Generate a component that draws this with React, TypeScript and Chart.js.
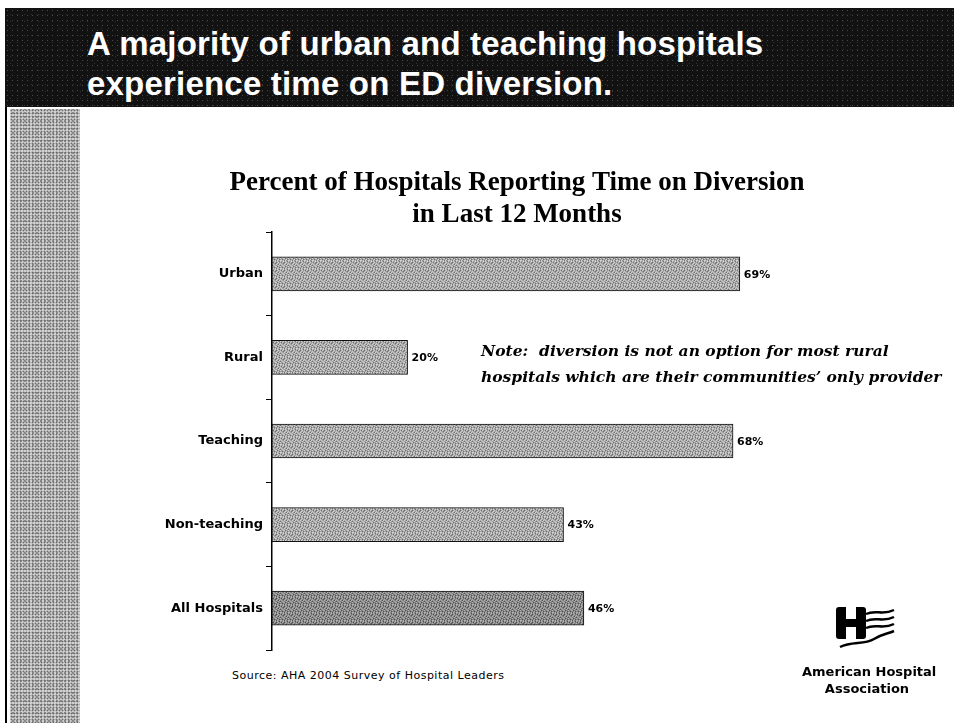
import React, { useEffect, useRef } from "react";
import { Chart, registerables } from "chart.js";

Chart.register(...registerables);

const categories = ["Urban", "Rural", "Teaching", "Non-teaching", "All Hospitals"];
const percentValues = [69, 20, 68, 43, 46];
const chartTitleLines = ["Percent of Hospitals Reporting Time on Diversion", "in Last 12 Months"];
const headlineLines = ["A majority of urban and teaching hospitals", "experience time on ED diversion."];
const noteLines = [
  "Note:  diversion is not an option for most rural",
  "hospitals which are their communities\u2019 only provider",
];
const sourceText = "Source: AHA 2004 Survey of Hospital Leaders";
const logoLines = ["American Hospital", "Association"];

// fixed dither map for a halftone look (0 = base, 1 = light, 2 = dark)
const DITHER = [
  [0, 1, 0, 2, 1, 0, 0, 1],
  [2, 0, 1, 0, 0, 2, 1, 0],
  [0, 1, 0, 0, 1, 0, 0, 2],
  [1, 0, 2, 1, 0, 1, 0, 0],
  [0, 0, 1, 0, 2, 0, 1, 0],
  [1, 2, 0, 0, 1, 0, 0, 1],
  [0, 0, 1, 2, 0, 0, 2, 0],
  [2, 1, 0, 0, 1, 1, 0, 1],
];

function makePattern(base: string, light: string, dark: string): CanvasPattern | string {
  const c = document.createElement("canvas");
  c.width = 8;
  c.height = 8;
  const g = c.getContext("2d");
  if (!g) return base;
  for (let y = 0; y < 8; y++) {
    for (let x = 0; x < 8; x++) {
      const v = DITHER[y][x];
      g.fillStyle = v === 1 ? light : v === 2 ? dark : base;
      g.fillRect(x, y, 1, 1);
    }
  }
  const p = g.createPattern(c, "repeat");
  return p || base;
}

const valueLabelPlugin = {
  id: "valueLabels",
  afterDatasetsDraw(chart: any) {
    const ctx = chart.ctx;
    const meta = chart.getDatasetMeta(0);
    const data = chart.data.datasets[0].data as number[];
    ctx.save();
    ctx.fillStyle = "#000";
    ctx.font = "bold 11px 'DejaVu Sans', Arial, sans-serif";
    ctx.textAlign = "left";
    ctx.textBaseline = "middle";
    meta.data.forEach((bar: any, i: number) => {
      ctx.fillText(data[i] + "%", bar.x + 4, bar.y + 1);
    });
    ctx.restore();
  },
};

function BarChart() {
  const ref = useRef<HTMLCanvasElement | null>(null);
  useEffect(() => {
    if (!ref.current) return;
    const normal = makePattern("#a2a2a2", "#cfcfcf", "#6e6e6e");
    const darker = makePattern("#828282", "#b0b0b0", "#4e4e4e");
    const colors = categories.map((c, i) => (i === categories.length - 1 ? darker : normal));
    const chart = new Chart(ref.current, {
      type: "bar",
      data: {
        labels: categories,
        datasets: [
          {
            data: percentValues,
            backgroundColor: colors as any,
            borderColor: "#111",
            borderWidth: 1,
            borderSkipped: false,
            barThickness: 34,
          },
        ],
      },
      options: {
        indexAxis: "y",
        animation: false,
        responsive: false,
        maintainAspectRatio: false,
        layout: { padding: { left: 0, right: 4, top: 0, bottom: 15 } },
        plugins: {
          legend: { display: false },
          tooltip: { enabled: false },
          title: {
            display: true,
            text: chartTitleLines,
            color: "#000",
            font: { family: "'Liberation Serif', 'Times New Roman', serif", size: 27, weight: "bold", lineHeight: 32 / 27 },
            padding: { top: 2, bottom: 1 },
          },
        },
        scales: {
          x: { display: false, min: 0, max: 100 },
          y: {
            type: "category",
            afterFit: (s: any) => {
              s.width = 188;
            },
            grid: { offset: true, drawOnChartArea: false, drawTicks: true, tickLength: 6, color: "#000", lineWidth: 1 },
            border: { display: true, color: "#000", width: 1.5 },
            ticks: {
              color: "#000",
              padding: 3,
              font: { family: "'DejaVu Sans', Arial, sans-serif", size: 13, weight: "bold" },
            },
          },
        },
      },
      plugins: [valueLabelPlugin],
    });
    return () => chart.destroy();
  }, []);
  return <canvas ref={ref} width={870} height={500} style={{ position: "absolute", left: 84, top: 165, width: 870, height: 500 }} />;
}

function Logo() {
  return (
    <svg width={90} height={50} style={{ position: "absolute", left: 830, top: 603 }} viewBox="0 0 90 50">
      <rect x={6} y={4} width={30} height={32} rx={3} fill="#000" />
      <rect x={16} y={4} width={10} height={12} fill="#fff" />
      <rect x={16} y={24} width={10} height={12} fill="#fff" />
      <path d="M36 11 C46 6, 52 13, 64 7" stroke="#000" strokeWidth={2.5} fill="none" />
      <path d="M36 18 C46 13, 52 20, 64 14" stroke="#000" strokeWidth={2.5} fill="none" />
      <path d="M36 25 C46 20, 52 27, 64 21" stroke="#000" strokeWidth={2.5} fill="none" />
      <path d="M10 44 C22 38, 34 42, 44 36 C52 31, 57 31, 64 28" stroke="#000" strokeWidth={2.5} fill="none" />
    </svg>
  );
}

export default function App() {
  const sans = "'Liberation Sans', Arial, Helvetica, sans-serif";
  const dsans = "'DejaVu Sans', Arial, sans-serif";
  const dserif = "'DejaVu Serif', 'Liberation Serif', serif";
  return (
    <div style={{ position: "absolute", left: 0, top: 0, width: 954, height: 723, background: "#fff", overflow: "hidden" }}>
      <div
        style={{
          position: "absolute",
          left: 5,
          top: 8,
          width: 949,
          height: 99,
          background:
            "radial-gradient(circle, #4a4a4a 0.6px, transparent 0.9px) 0 0 / 5px 5px, radial-gradient(circle, #333 0.6px, transparent 0.9px) 2px 3px / 7px 7px, #121212",
        }}
      />
      {headlineLines.map((t, i) => (
        <div
          key={t}
          style={{
            position: "absolute",
            left: 87,
            top: 24 + i * 40,
            fontFamily: sans,
            fontWeight: "bold",
            fontSize: 33,
            lineHeight: "40px",
            letterSpacing: 0.2,
            color: "#fff",
            whiteSpace: "nowrap",
          }}
        >
          {t}
        </div>
      ))}
      <div style={{ position: "absolute", left: 5, top: 107, width: 2, height: 616, background: "#000" }} />
      <div
        style={{
          position: "absolute",
          left: 10,
          top: 109,
          width: 70,
          height: 614,
          background:
            "radial-gradient(circle, #6a6a6a 0.8px, transparent 1.1px) 0 0 / 3px 3px, radial-gradient(circle, #8a8a8a 0.8px, transparent 1.1px) 1px 2px / 4px 4px, #cfcfcf",
        }}
      />
      <BarChart />
      {noteLines.map((t, i) => (
        <div
          key={t}
          style={{
            position: "absolute",
            left: 481,
            top: 341 + i * 26,
            fontFamily: dserif,
            fontStyle: "italic",
            fontWeight: "bold",
            fontSize: 15.5,
            lineHeight: "20px",
            color: "#000",
            whiteSpace: "pre",
          }}
        >
          {t}
        </div>
      ))}
      <div
        style={{
          position: "absolute",
          left: 232,
          top: 669,
          fontFamily: dsans,
          fontSize: 11,
          lineHeight: "14px",
          letterSpacing: 0.5,
          color: "#000",
          whiteSpace: "nowrap",
        }}
      >
        {sourceText}
      </div>
      <Logo />
      {logoLines.map((t, i) => (
        <div
          key={t}
          style={{
            position: "absolute",
            left: 802,
            width: 130,
            top: 664 + i * 17,
            textAlign: "center",
            fontFamily: dsans,
            fontWeight: "bold",
            fontSize: 13,
            lineHeight: "16px",
            color: "#000",
            whiteSpace: "nowrap",
          }}
        >
          {t}
        </div>
      ))}
    </div>
  );
}
